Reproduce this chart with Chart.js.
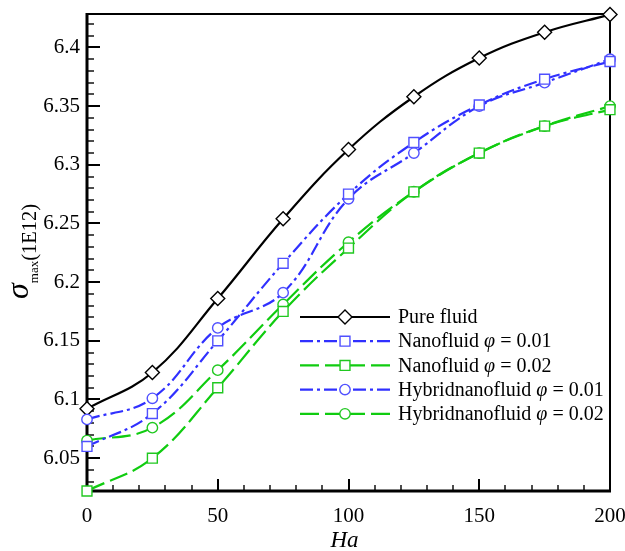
<!DOCTYPE html>
<html>
<head>
<meta charset="utf-8">
<script src="https://cdn.jsdelivr.net/npm/chart.js@4/dist/chart.umd.min.js"></script>
<style>
  html, body { margin: 0; padding: 0; background: #fff; }
  #wrap { width: 625px; height: 551px; position: relative; }
</style>
</head>
<body>
<div id="wrap"><canvas id="c" width="625" height="551"></canvas></div>
<script>
// ---- data ----
const ha = [0, 25, 50, 75, 100, 125, 150, 175, 200];
const pureFluid   = [6.092, 6.123, 6.186, 6.254, 6.313, 6.358, 6.391, 6.413, 6.428];
const nano001     = [6.060, 6.088, 6.150, 6.216, 6.275, 6.319, 6.351, 6.373, 6.388];
const nano002     = [6.022, 6.050, 6.110, 6.175, 6.229, 6.277, 6.310, 6.333, 6.347];
const hybrid001   = [6.083, 6.101, 6.161, 6.191, 6.271, 6.310, 6.350, 6.370, 6.390];
const hybrid002   = [6.065, 6.076, 6.125, 6.181, 6.234, 6.277, 6.310, 6.333, 6.350];
const seriesNames = ['Pure fluid', 'Nanofluid φ = 0.01', 'Nanofluid φ = 0.02', 'Hybridnanofluid φ = 0.01', 'Hybridnanofluid φ = 0.02'];
const xTicks = [0, 50, 100, 150, 200];
const yTicks = [6.05, 6.1, 6.15, 6.2, 6.25, 6.3, 6.35, 6.4];
const xMinorTicks = [10, 20, 30, 40, 60, 70, 80, 90, 110, 120, 130, 140, 160, 170, 180, 190];
const yMinorTicks = [6.03, 6.04, 6.06, 6.07, 6.08, 6.09, 6.11, 6.12, 6.13, 6.14, 6.16, 6.17, 6.18, 6.19,
                     6.21, 6.22, 6.23, 6.24, 6.26, 6.27, 6.28, 6.29, 6.31, 6.32, 6.33, 6.34, 6.36, 6.37,
                     6.38, 6.39, 6.41, 6.42];

const SERIF = "'Liberation Serif', 'Times New Roman', serif";
const BLUE = '#3030ff', BLUE_M = '#5050ff';
const GREEN = '#10cc10', GREEN_M = '#20c820';

const pts = arr => ha.map((h, i) => ({ x: h, y: arr[i] }));

function ds(label, arr, color, mcolor, dash, style, radius) {
  return {
    label, data: pts(arr),
    borderColor: color, borderWidth: 2.2, borderDash: dash,
    pointStyle: style, pointRadius: radius, pointHoverRadius: radius,
    pointBorderColor: mcolor, pointBackgroundColor: '#fff', pointBorderWidth: 1.4,
    tension: 0.4, clip: false, fill: false
  };
}

const DASHDOT = [13, 4, 3, 4];
const LDASH = [19, 6];

const datasets = [
  ds(seriesNames[1], nano001, BLUE, BLUE_M, DASHDOT, 'rect', 7),
  ds(seriesNames[2], nano002, GREEN, GREEN_M, LDASH, 'rect', 7),
  ds(seriesNames[3], hybrid001, BLUE, BLUE_M, DASHDOT, 'circle', 5.2),
  ds(seriesNames[4], hybrid002, GREEN, GREEN_M, LDASH, 'circle', 5.2),
  ds(seriesNames[0], pureFluid, '#000', '#000', [], 'rectRot', 7)
];
const legendOrder = [4, 0, 1, 2, 3];

const framePlugin = {
  id: 'frame',
  beforeDatasetsDraw(chart) {
    const { ctx, chartArea: a, scales: { x, y } } = chart;
    ctx.save();
    ctx.strokeStyle = '#000';
    ctx.setLineDash([]);
    const hTick = (v, len, w) => {
      const px = Math.round(x.getPixelForValue(v));
      ctx.lineWidth = w; ctx.beginPath();
      ctx.moveTo(px, a.bottom); ctx.lineTo(px, a.bottom - len); ctx.stroke();
    };
    const vTick = (v, len, w) => {
      const py = Math.round(y.getPixelForValue(v));
      ctx.lineWidth = w; ctx.beginPath();
      ctx.moveTo(a.left, py); ctx.lineTo(a.left + len, py); ctx.stroke();
    };
    xTicks.forEach(v => hTick(v, 12, 2));
    xMinorTicks.forEach(v => hTick(v, 6, 1.4));
    yTicks.forEach(v => vTick(v, 13, 2));
    yMinorTicks.forEach(v => vTick(v, 7, 1.4));
    // frame
    ctx.lineWidth = 2;
    ctx.beginPath();
    ctx.moveTo(a.left, a.top); ctx.lineTo(a.right, a.top); ctx.lineTo(a.right, a.bottom);
    ctx.stroke();
    ctx.lineWidth = 3;
    ctx.beginPath();
    ctx.moveTo(a.left, a.top - 1); ctx.lineTo(a.left, a.bottom); ctx.lineTo(a.right + 1, a.bottom);
    ctx.stroke();
    ctx.restore();
  },
  afterDraw(chart) {
    const { ctx, chartArea: a } = chart;
    ctx.save();
    // ---- legend ----
    const x0 = 300, x1 = 390, xm = 345, tx = 398, y0 = 317, dy = 24.2;
    legendOrder.forEach((di, row) => {
      const d = chart.data.datasets[di];
      const yy = y0 + row * dy;
      ctx.strokeStyle = d.borderColor;
      ctx.lineWidth = d.borderWidth;
      ctx.setLineDash(d.borderDash);
      ctx.beginPath(); ctx.moveTo(x0, yy); ctx.lineTo(xm, yy); ctx.stroke();
      ctx.beginPath(); ctx.moveTo(x1, yy); ctx.lineTo(xm, yy); ctx.stroke();
      ctx.setLineDash([]);
      ctx.fillStyle = d.pointBackgroundColor;
      ctx.strokeStyle = d.pointBorderColor;
      ctx.lineWidth = d.pointBorderWidth;
      Chart.helpers.drawPoint(ctx, { pointStyle: d.pointStyle, radius: d.pointRadius, rotation: 0, borderWidth: d.pointBorderWidth }, xm, yy);
      // text
      ctx.fillStyle = '#000';
      ctx.textBaseline = 'middle';
      ctx.textAlign = 'left';
      const parts = d.label.split('φ');
      let cx = tx;
      ctx.font = `20px ${SERIF}`;
      ctx.fillText(parts[0], cx, yy + 1);
      cx += ctx.measureText(parts[0]).width;
      if (parts.length > 1) {
        ctx.font = `italic 20px ${SERIF}`;
        ctx.fillText('φ', cx, yy + 1);
        cx += ctx.measureText('φ').width;
        ctx.font = `20px ${SERIF}`;
        ctx.fillText(parts[1], cx, yy + 1);
      }
    });
    // ---- axis titles ----
    ctx.fillStyle = '#000';
    ctx.textAlign = 'center';
    ctx.textBaseline = 'alphabetic';
    ctx.font = `italic 23px ${SERIF}`;
    ctx.fillText('Ha', (a.left + a.right) / 2 - 4, 547);

    ctx.save();
    ctx.translate(28, 299);
    ctx.rotate(-Math.PI / 2);
    ctx.textAlign = 'left';
    const f1 = `italic 32px ${SERIF}`, f2 = `13px ${SERIF}`, f3 = `20.5px ${SERIF}`;
    let sx = 0;
    ctx.font = f1; ctx.fillText('σ', sx, 0); sx += ctx.measureText('σ').width;
    ctx.font = f2; ctx.fillText('max', sx, 10); sx += ctx.measureText('max').width;
    ctx.font = f3; ctx.fillText('(1E12)', sx, 7.5);
    ctx.restore();
    ctx.restore();
  }
};

new Chart(document.getElementById('c'), {
  type: 'line',
  data: { datasets },
  options: {
    responsive: false,
    animation: false,
    events: [],
    layout: { padding: { top: 14, right: 15, left: 0, bottom: 0 } },
    plugins: { legend: { display: false }, tooltip: { enabled: false } },
    scales: {
      x: {
        type: 'linear', min: 0, max: 200,
        afterBuildTicks: s => { s.ticks = xTicks.map(v => ({ value: v })); },
        afterFit: s => { s.height = 60; s.paddingLeft = 0; s.paddingRight = 0; },
        grid: { display: false, drawTicks: false },
        border: { display: false },
        ticks: { color: '#000', font: { family: SERIF, size: 21 }, padding: 13, maxRotation: 0 }
      },
      y: {
        type: 'linear', min: 6.022, max: 6.4285,
        afterBuildTicks: s => { s.ticks = yTicks.map(v => ({ value: v })); },
        afterFit: s => { s.width = 87; s.paddingTop = 0; s.paddingBottom = 0; },
        grid: { display: false, drawTicks: false },
        border: { display: false },
        ticks: { color: '#000', font: { family: SERIF, size: 21 }, padding: 7,
                 callback: v => String(+v.toFixed(2)) }
      }
    }
  },
  plugins: [framePlugin]
});
</script>
</body>
</html>
